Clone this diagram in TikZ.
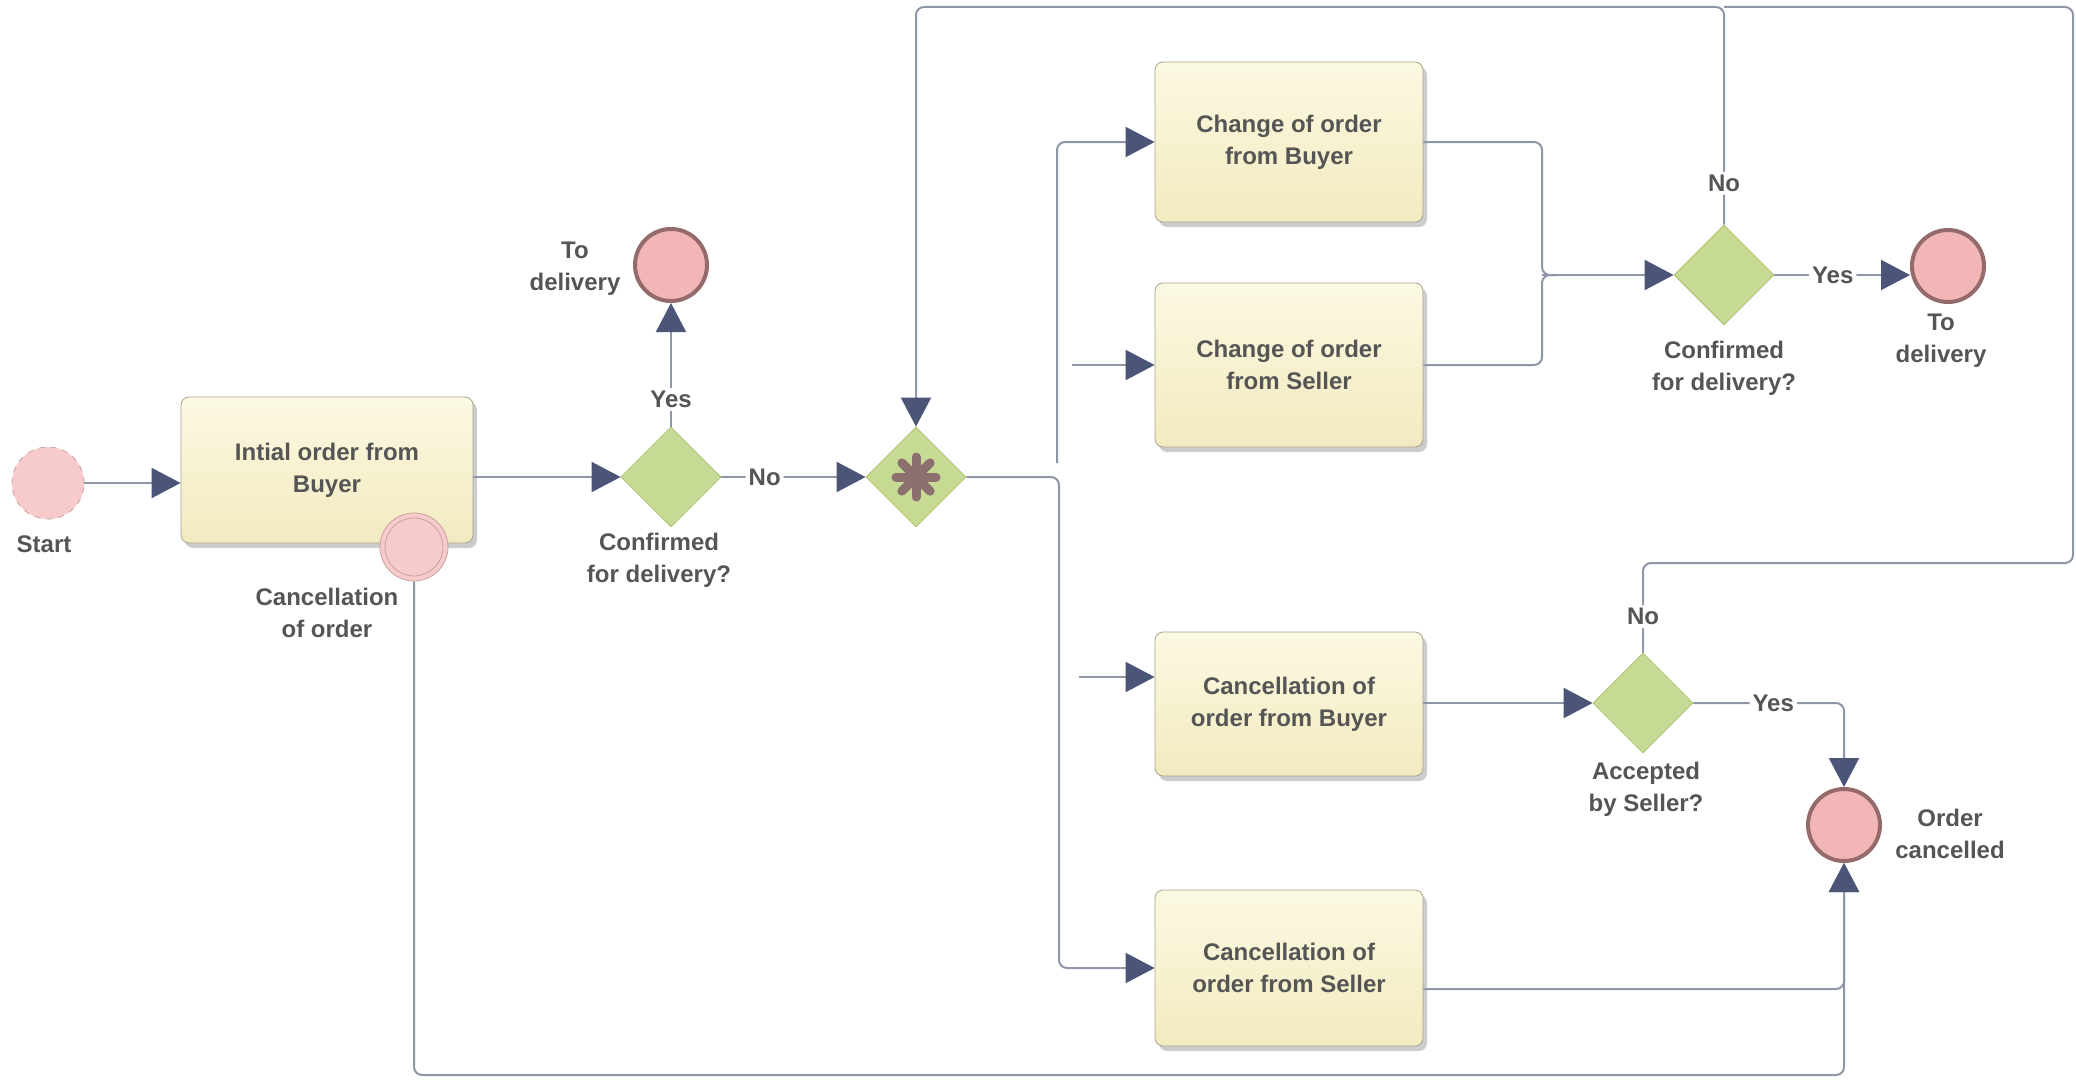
\documentclass[tikz,border=0pt]{standalone}
\usepackage{fontspec}
\setsansfont{Liberation Sans}
\usepackage{tikz}
\usetikzlibrary{arrows.meta,positioning,shadows,shapes.geometric}
\definecolor{flowline}{HTML}{8F96A8}
\definecolor{flowtip}{HTML}{4A5577}
\definecolor{tasktop}{HTML}{FCF9E2}
\definecolor{taskbottom}{HTML}{F2EABF}
\definecolor{taskline}{HTML}{A8A28E}
\definecolor{gatefill}{HTML}{C6DA94}
\definecolor{gateline}{HTML}{A9C16F}
\definecolor{endfill}{HTML}{F2B6B6}
\definecolor{endline}{HTML}{946A6A}
\definecolor{startfill}{HTML}{F7CBCB}
\definecolor{startline}{HTML}{C9A0A0}
\definecolor{complexmark}{HTML}{8C7070}
\definecolor{labeltext}{HTML}{555555}

\begin{document}
\begin{tikzpicture}[x=0.5pt, y=-0.5pt,
    every node/.style={font=\sffamily\bfseries\fontsize{12pt}{16pt}\selectfont, text=labeltext, align=center},
    task/.style={draw=taskline, rounded corners=4pt, top color=tasktop, bottom color=taskbottom,
        minimum width=134pt, inner sep=0pt,
        drop shadow={shadow xshift=2pt, shadow yshift=-2.5pt, fill=black!40, opacity=0.5}},
    gateway/.style={diamond, draw=gateline, fill=gatefill, minimum width=50pt, minimum height=50pt, inner sep=0pt},
    endevent/.style={circle, draw=endline, line width=2pt, fill=endfill, minimum size=36pt, inner sep=0pt},
    startevent/.style={circle, draw=startline, dashed, fill=startfill, minimum size=36pt, inner sep=0pt},
    conn/.style={draw=flowline, line width=1pt, rounded corners=4pt},
    flow/.style={conn, -{Triangle[length=14.5pt, width=15pt, color=flowtip]}},
    flowlbl/.style={fill=white, inner sep=1.5pt}]
    \useasboundingbox (0,0) rectangle (2076,1081);

    % Start and initial order
    \node[startevent] (start) at (48,483) {};
    \node (startlbl) at (44,544) {Start};
    \node[task, minimum width=146pt, minimum height=73pt] (init) at (327,470) {Intial order from\\Buyer};

    % Boundary event on the initial task
    \node[circle, draw=startline, fill=startfill, minimum size=34pt, inner sep=0pt] (cancev) at (414,547) {};
    \draw[startline] (cancev) circle (14.5pt);
    \node (cancevlbl) at (327,613) {Cancellation\\of order};

    % First decision
    \node[gateway] (g1) at (671,477) {};
    \node (g1lbl) at (659,560) {Confirmed\\for delivery?};
    \node[endevent] (end1) at (671,265) {};
    \node (end1lbl) at (575,269) {To\\delivery};

    % Complex gateway
    \node[gateway] (g2) at (916,477) {};
    \foreach \a in {0,45,90,135} {
        \draw[complexmark, line width=4.5pt, line cap=round] (g2) ++(\a:10pt) -- ++(\a+180:20pt);
    }

    % Tasks on the right
    \node[task, minimum height=80pt] (chbuy) at (1289,142) {Change of order\\from Buyer};
    \node[task, minimum height=82pt] (chsel) at (1289,365) {Change of order\\from Seller};
    \node[task, minimum height=72pt] (cabuy) at (1289,704) {Cancellation of\\order from Buyer};
    \node[task, minimum height=78pt] (casel) at (1289,968) {Cancellation of\\order from Seller};

    % Second decision
    \node[gateway] (g3) at (1724,275) {};
    \node (g3lbl) at (1724,368) {Confirmed\\for delivery?};
    \node[endevent] (end2) at (1948,266) {};
    \node (end2lbl) at (1941,341) {To\\delivery};

    % Cancellation decision
    \node[gateway] (g4) at (1643,703) {};
    \node (g4lbl) at (1646,789) {Accepted\\by Seller?};
    \node[endevent] (endc) at (1844,825) {};
    \node (endclbl) at (1950,834) {Order\\cancelled};

    % Routing points
    \coordinate (bus) at (1059,477);
    \coordinate (upfork) at (1057,463);
    \coordinate (selin) at (1072,365);
    \coordinate (cbin) at (1079,677);
    \coordinate (join) at (1542,275);
    \coordinate (loopt) at (2073,7);
    \coordinate (rloop) at (2073,563);
    \coordinate (bot) at (0,1075);

    % Flows
    \draw[flow] (start) -- (start -| init.west);
    \draw[flow] (g1 -| init.east) -- (g1);
    \draw[flow] (g1) -- node[flowlbl, pos=0.22] {Yes} (end1);
    \draw[flow] (g1) -- node[flowlbl, pos=0.3] {No} (g2);
    \draw[flow] (g2.east) -- (bus) |- (casel.west);
    \draw[flow] (upfork) |- (chbuy.west);
    \draw[flow] (selin) -- (chsel.west);
    \draw[flow] (cbin) -- (cabuy.west |- cbin);
    \draw[conn] (chbuy.east) -| (join) -- +(14,0);
    \draw[conn] (chsel.east) -| (join) -- +(14,0);
    \draw[flow] (join) -- (g3);
    \draw[flow] (g3.east) -- node[flowlbl, pos=0.43] {Yes} (g3 -| end2.west);
    \draw[flow] (g3.north) -- node[flowlbl, pos=0.19] {No} (g3.north |- loopt) -| (g2.north);
    \draw[conn] (g4.north) -- node[flowlbl, pos=0.4] {No} (g4.north |- rloop) -| (loopt) -- (g3.north |- loopt);
    \draw[flow] (cabuy.east |- g4) -- (g4);
    \draw[flow] (g4.east) -- node[flowlbl, pos=0.53] {Yes} (g4 -| endc) -- (endc);
    \draw[flow] (casel.east |- 0,989) -| (endc.south);
    \draw[flow] (cancev.south) -- (cancev.south |- bot) -| (endc.south);
\end{tikzpicture}
\end{document}
